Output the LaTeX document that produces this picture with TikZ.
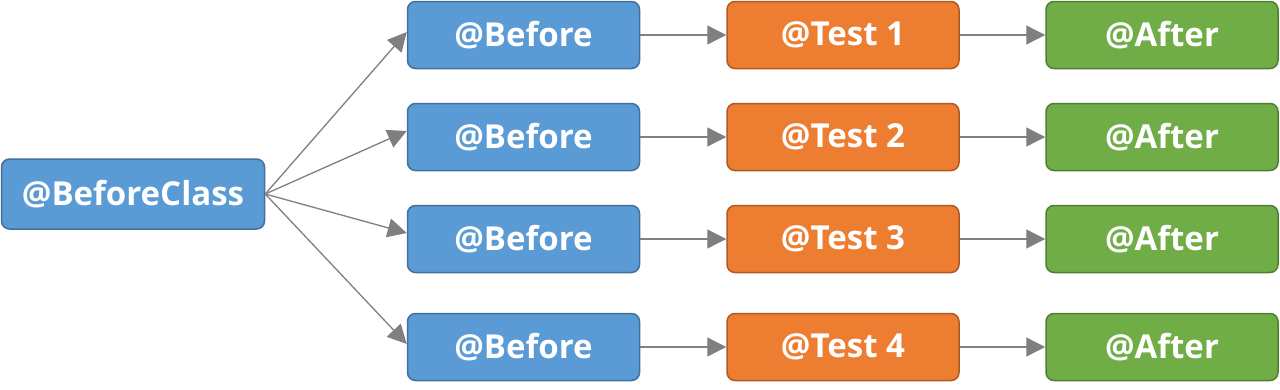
\documentclass[tikz,border=0pt]{standalone}
\usepackage{fontspec}
\setmainfont{Open Sans}
\usetikzlibrary{arrows.meta}
\definecolor{bfill}{HTML}{5B9BD5}
\definecolor{bdraw}{HTML}{41719C}
\definecolor{ofill}{HTML}{ED7D31}
\definecolor{odraw}{HTML}{AE5A21}
\definecolor{gfill}{HTML}{70AD47}
\definecolor{gdraw}{HTML}{507E32}
\definecolor{arr}{HTML}{7F7F7F}
\tikzset{
  box/.style={rounded corners=8pt, line width=1.5pt, minimum height=67pt,
    text=white, font=\fontsize{33}{36}\selectfont\bfseries, inner sep=0pt},
  bluebox/.style={box, fill=bfill, draw=bdraw, minimum width=232pt},
  orangebox/.style={box, fill=ofill, draw=odraw, minimum width=232pt},
  greenbox/.style={box, fill=gfill, draw=gdraw, minimum width=232pt},
  conn/.style={draw=arr, line width=1.3pt, -{Triangle[length=19pt,width=19pt]}}
}
\begin{document}
\begin{tikzpicture}[x=1pt,y=-1pt]
\useasboundingbox (0,0) rectangle (1280,389);
\node[bluebox, minimum width=263pt, minimum height=70pt] (bc) at (133,194) {@BeforeClass};
\foreach \i/\y in {1/35,2/137,3/239,4/347}{
  \node[bluebox] (b\i) at (523.5,\y) {@Before};
  \node[orangebox] (t\i) at (843,\y) {@Test \i};
  \node[greenbox] (a\i) at (1162,\y) {@After};
  \draw[conn] (b\i) -- (t\i);
  \draw[conn] (t\i) -- (a\i);
}
\draw[conn] (bc.east) -- ([yshift=3pt]b1.west);
\draw[conn] (bc.east) -- ([yshift=6pt]b2.west);
\draw[conn] (bc.east) -- ([yshift=6pt]b3.west);
\draw[conn] (bc.east) -- ([yshift=3pt]b4.west);
\end{tikzpicture}
\end{document}
